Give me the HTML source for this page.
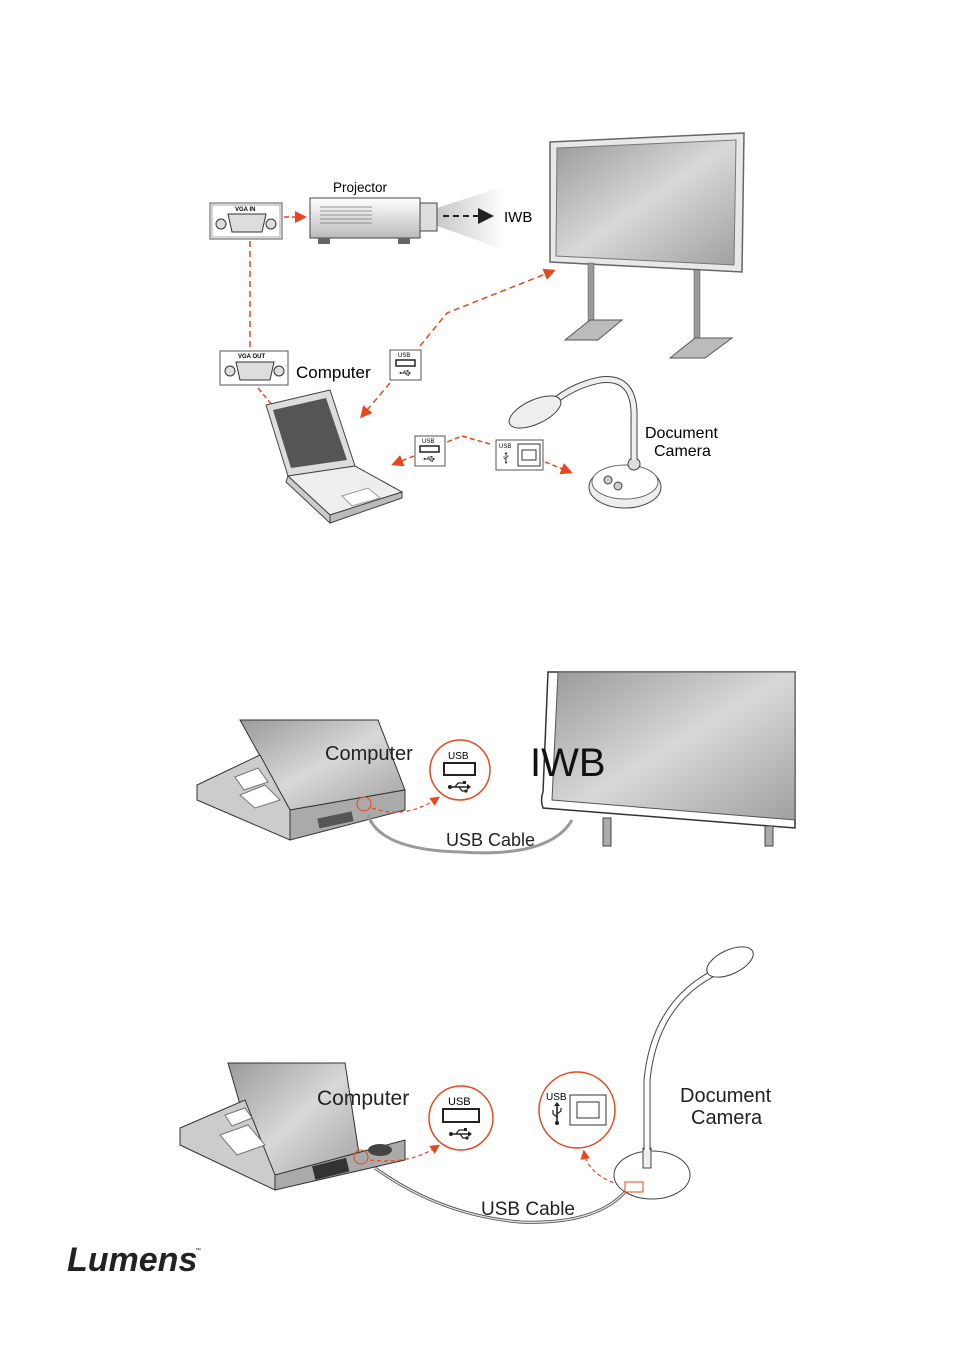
<!DOCTYPE html>
<html><head><meta charset="utf-8"><style>
html,body{margin:0;padding:0;background:#fff}
svg{display:block}
text{font-family:"Liberation Sans",sans-serif}
</style></head><body>
<svg width="955" height="1350" viewBox="0 0 955 1350" xmlns="http://www.w3.org/2000/svg">
<defs>
<linearGradient id="scr" x1="0" y1="0" x2="1" y2="1">
<stop offset="0" stop-color="#9a9a9a"/><stop offset="0.5" stop-color="#d8d8d8"/><stop offset="1" stop-color="#a0a0a0"/></linearGradient>
<linearGradient id="cone" x1="0" y1="0" x2="1" y2="0">
<stop offset="0" stop-color="#c8c8c8"/><stop offset="1" stop-color="#fff"/></linearGradient>
<linearGradient id="body" x1="0" y1="0" x2="0" y2="1">
<stop offset="0" stop-color="#fff"/><stop offset="1" stop-color="#bbb"/></linearGradient>
<marker id="ar" markerWidth="8" markerHeight="8" refX="6" refY="4" orient="auto"><path d="M0,0 L8,4 L0,8z" fill="#e8471d"/></marker>
<marker id="ab" markerWidth="8" markerHeight="8" refX="6" refY="4" orient="auto"><path d="M0,0 L8,4 L0,8z" fill="#222"/></marker>
<g id="usb">
<line x1="-9" y1="0" x2="8" y2="0" stroke="#222" stroke-width="1.6"/>
<circle cx="-9" cy="0" r="2" fill="#222"/>
<path d="M8,-3 L12,0 L8,3z" fill="#222"/>
<path d="M-4,0 L-1,-4 L4,-4" fill="none" stroke="#222" stroke-width="1.3"/>
<path d="M0,0 L3,4 L6,4" fill="none" stroke="#222" stroke-width="1.3"/>
<rect x="4" y="-6" width="3" height="3" fill="#222"/>
<circle cx="7" cy="4" r="1.6" fill="#222"/>
</g>
<g id="usbv">
<line x1="0" y1="-9" x2="0" y2="9" stroke="#222" stroke-width="1.6"/>
<circle cx="0" cy="9" r="2" fill="#222"/>
<path d="M-3,-8 L0,-12 L3,-8z" fill="#222"/>
<path d="M0,3 L-4,0 L-4,-4" fill="none" stroke="#222" stroke-width="1.2"/>
<path d="M0,0 L4,-3 L4,-6" fill="none" stroke="#222" stroke-width="1.2"/>
</g>
</defs>

<!-- TOP DIAGRAM -->
<path d="M550,142 L744,133 L742,272 L550,262z" fill="#e8e8e8" stroke="#666" stroke-width="1.5"/>
<path d="M557,148 L736,140 L734,265 L556,256z" fill="url(#scr)" stroke="#777"/>
<rect x="588" y="263" width="6" height="62" fill="#999" stroke="#555" stroke-width=".5"/>
<rect x="694" y="270" width="6" height="72" fill="#999" stroke="#555" stroke-width=".5"/>
<path d="M565,340 L590,320 L622,320 L598,340z" fill="#bbb" stroke="#555"/>
<path d="M670,358 L695,338 L732,338 L705,358z" fill="#bbb" stroke="#555"/>

<text x="333" y="192" font-size="13.5">Projector</text>
<path d="M437,208 L505,186 L505,250 L437,226z" fill="url(#cone)"/>
<rect x="310" y="198" width="110" height="40" fill="url(#body)" stroke="#444"/>
<g stroke="#777" stroke-width=".7"><line x1="320" y1="207" x2="372" y2="207"/><line x1="320" y1="211" x2="372" y2="211"/><line x1="320" y1="215" x2="372" y2="215"/><line x1="320" y1="219" x2="372" y2="219"/><line x1="320" y1="223" x2="372" y2="223"/></g>
<rect x="420" y="203" width="17" height="28" fill="#ddd" stroke="#444"/>
<rect x="318" y="238" width="12" height="6" fill="#666"/><rect x="398" y="238" width="12" height="6" fill="#666"/>
<line x1="443" y1="216" x2="490" y2="216" stroke="#222" stroke-width="2" stroke-dasharray="6,4" marker-end="url(#ab)"/>
<text x="504" y="222" font-size="15">IWB</text>

<rect x="210" y="203" width="72" height="36" fill="#fff" stroke="#555"/>
<rect x="212" y="205" width="68" height="32" fill="none" stroke="#aaa"/>
<text x="235" y="211" font-size="6" font-weight="bold">VGA IN</text>
<path d="M228,214 L266,214 L262,232 L232,232z" fill="#ddd" stroke="#333"/>
<circle cx="221" cy="224" r="5" fill="#ddd" stroke="#333"/><circle cx="271" cy="224" r="5" fill="#ddd" stroke="#333"/>
<line x1="284" y1="217" x2="304" y2="217" stroke="#e8471d" stroke-width="1.5" stroke-dasharray="5,3" marker-end="url(#ar)"/>
<line x1="250" y1="241" x2="250" y2="350" stroke="#e8471d" stroke-width="1.5" stroke-dasharray="6,4"/>

<rect x="220" y="351" width="68" height="34" fill="#fff" stroke="#555"/>
<text x="238" y="358" font-size="6" font-weight="bold">VGA OUT</text>
<path d="M236,362 L274,362 L270,380 L240,380z" fill="#ddd" stroke="#333"/>
<circle cx="230" cy="371" r="5" fill="#ddd" stroke="#333"/><circle cx="279" cy="371" r="5" fill="#ddd" stroke="#333"/>
<text x="296" y="378" font-size="17">Computer</text>
<line x1="258" y1="388" x2="272" y2="405" stroke="#e8471d" stroke-width="1.5" stroke-dasharray="5,3"/>

<rect x="390" y="350" width="31" height="30" fill="#fff" stroke="#555"/>
<text x="398" y="357" font-size="6">USB</text>
<rect x="396" y="360" width="19" height="6" fill="#fff" stroke="#222" stroke-width="1.5"/>
<use href="#usb" transform="translate(405,373) scale(.5)"/>
<path d="M420,346 L447,313 L553,271" fill="none" stroke="#e8471d" stroke-width="1.5" stroke-dasharray="6,4" marker-end="url(#ar)"/>
<line x1="390" y1="383" x2="362" y2="416" stroke="#e8471d" stroke-width="1.5" stroke-dasharray="6,4" marker-end="url(#ar)"/>

<path d="M266,405 L330,390 L355,466 L288,476z" fill="#ddd" stroke="#444"/>
<path d="M273,410 L326,398 L347,460 L291,468z" fill="#555"/>
<path d="M288,476 L355,466 L402,492 L330,515z" fill="#eee" stroke="#444"/>
<path d="M330,515 L402,492 L402,498 L330,523z" fill="#bbb" stroke="#444"/>
<path d="M288,476 L330,515 L330,523 L286,482z" fill="#ccc" stroke="#444"/>
<path d="M342,496 L368,488 L380,498 L352,506z" fill="#fff" stroke="#999"/>

<rect x="415" y="436" width="30" height="30" fill="#fff" stroke="#555"/>
<text x="422" y="443" font-size="6">USB</text>
<rect x="420" y="446" width="19" height="6" fill="#fff" stroke="#222" stroke-width="1.5"/>
<use href="#usb" transform="translate(429,459) scale(.5)"/>
<path d="M490,444 L462,436 L447,442 M414,456 L394,464" fill="none" stroke="#e8471d" stroke-width="1.5" stroke-dasharray="5,3" marker-end="url(#ar)"/>
<rect x="496" y="440" width="47" height="30" fill="#fff" stroke="#555"/>
<text x="499" y="448" font-size="6">USB</text>
<rect x="518" y="444" width="22" height="22" fill="#fff" stroke="#333"/>
<rect x="522" y="450" width="14" height="10" fill="#fff" stroke="#333"/>
<use href="#usbv" transform="translate(506,458) scale(.5)"/>
<line x1="545" y1="462" x2="570" y2="472" stroke="#e8471d" stroke-width="1.5" stroke-dasharray="5,3" marker-end="url(#ar)"/>

<ellipse cx="625" cy="487" rx="36" ry="21" fill="#eee" stroke="#444"/>
<ellipse cx="625" cy="482" rx="33" ry="17" fill="#fff" stroke="#666"/>
<circle cx="634" cy="464" r="6" fill="#ddd" stroke="#444"/>
<path d="M634,460 L634,420 Q636,375 600,380 Q575,385 556,400" fill="none" stroke="#444" stroke-width="7"/>
<path d="M634,460 L634,420 Q636,375 600,380 Q575,385 556,400" fill="none" stroke="#eee" stroke-width="5"/>
<ellipse cx="535" cy="412" rx="28" ry="12" transform="rotate(-25 535 412)" fill="#eee" stroke="#444"/>
<circle cx="608" cy="480" r="4" fill="#ccc" stroke="#444"/><circle cx="618" cy="486" r="4" fill="#ccc" stroke="#444"/>
<text x="645" y="438" font-size="16">Document</text>
<text x="654" y="456" font-size="16">Camera</text>

<!-- MIDDLE -->
<path d="M548,672 L795,672 L795,828 L543,808 Q540,800 543,792z" fill="#fff" stroke="#333" stroke-width="1.5"/>
<path d="M558,672 L795,672 L795,820 L552,800z" fill="url(#scr)" stroke="#555"/>
<rect x="603" y="818" width="8" height="28" fill="#aaa" stroke="#444"/>
<rect x="765" y="826" width="8" height="20" fill="#aaa" stroke="#444"/>
<text x="530" y="776" font-size="40" fill="#111">IWB</text>
<path d="M240,720 L378,720 L405,790 L290,810z" fill="url(#scr)" stroke="#333"/>
<path d="M197,785 L260,755 L290,810 L290,840 L197,800z" fill="#ccc" stroke="#333"/>
<path d="M290,810 L405,790 L405,810 L290,840z" fill="#aaa" stroke="#333"/>
<rect x="318" y="815" width="35" height="10" fill="#555" transform="rotate(-12 335 820)"/>
<path d="M235,777 L258,768 L268,782 L244,790z" fill="#fff" stroke="#777"/>
<path d="M240,795 L265,785 L280,800 L255,808z" fill="#fff" stroke="#777"/>
<text x="325" y="760" font-size="20" fill="#222">Computer</text>
<circle cx="460" cy="770" r="30" fill="#fff" stroke="#e8471d" stroke-width="1.5"/>
<text x="448" y="759" font-size="10">USB</text>
<rect x="444" y="763" width="31" height="12" fill="#fff" stroke="#222" stroke-width="2"/>
<use href="#usb" transform="translate(459,787)"/>
<circle cx="364" cy="804" r="7" fill="none" stroke="#e8471d"/>
<path d="M372,808 Q405,820 438,798" fill="none" stroke="#e8471d" stroke-width="1.2" stroke-dasharray="4,3" marker-end="url(#ar)"/>
<path d="M368,815 Q380,850 460,852 Q550,858 572,820" fill="none" stroke="#999" stroke-width="3"/>
<text x="446" y="846" font-size="18" fill="#222">USB Cable</text>

<!-- BOTTOM -->
<path d="M228,1063 L345,1063 L360,1160 L262,1180z" fill="url(#scr)" stroke="#333"/>
<path d="M180,1128 L245,1100 L275,1175 L275,1190 L180,1145z" fill="#ccc" stroke="#333"/>
<path d="M275,1175 L405,1140 L405,1160 L275,1190z" fill="#aaa" stroke="#333"/>
<path d="M225,1115 L245,1108 L252,1118 L232,1126z" fill="#fff" stroke="#777"/>
<path d="M220,1135 L248,1125 L265,1145 L237,1155z" fill="#fff" stroke="#777"/>
<rect x="313" y="1162" width="35" height="14" fill="#333" transform="rotate(-14 330 1168)"/>
<ellipse cx="380" cy="1150" rx="12" ry="6" fill="#444"/>
<text x="317" y="1105" font-size="21" fill="#222">Computer</text>
<circle cx="361" cy="1157" r="7" fill="none" stroke="#e8471d"/>
<circle cx="461" cy="1118" r="32" fill="#fff" stroke="#e8471d" stroke-width="1.5"/>
<text x="448" y="1105" font-size="11">USB</text>
<rect x="443" y="1109" width="36" height="13" fill="#fff" stroke="#222" stroke-width="2"/>
<use href="#usb" transform="translate(460,1134)"/>
<path d="M370,1160 Q410,1165 438,1146" fill="none" stroke="#e8471d" stroke-width="1.2" stroke-dasharray="4,3" marker-end="url(#ar)"/>
<circle cx="577" cy="1110" r="38" fill="#fff" stroke="#e8471d" stroke-width="1.5"/>
<text x="546" y="1100" font-size="10">USB</text>
<rect x="570" y="1095" width="36" height="30" fill="#fff" stroke="#333"/>
<rect x="577" y="1102" width="22" height="16" fill="#fff" stroke="#333"/>
<use href="#usbv" transform="translate(557,1114)"/>
<path d="M620,1185 Q588,1175 584,1152" fill="none" stroke="#e8471d" stroke-width="1.2" stroke-dasharray="4,3" marker-end="url(#ar)"/>
<path d="M375,1168 Q440,1215 520,1222 Q595,1225 625,1192" fill="none" stroke="#444" stroke-width="3"/>
<path d="M375,1168 Q440,1215 520,1222 Q595,1225 625,1192" fill="none" stroke="#ddd" stroke-width="1.5"/>
<text x="481" y="1215" font-size="19" fill="#222">USB Cable</text>
<ellipse cx="652" cy="1175" rx="38" ry="24" fill="#fff" stroke="#444"/>
<rect x="643" y="1148" width="8" height="20" fill="#eee" stroke="#444"/>
<path d="M647,1150 L647,1080 Q655,1000 720,970" fill="none" stroke="#444" stroke-width="7"/>
<path d="M647,1150 L647,1080 Q655,1000 720,970" fill="none" stroke="#fff" stroke-width="5"/>
<ellipse cx="730" cy="962" rx="25" ry="12" transform="rotate(-25 730 962)" fill="#fff" stroke="#444"/>
<rect x="625" y="1182" width="18" height="10" fill="#fff" stroke="#e8471d"/>
<text x="680" y="1102" font-size="20" fill="#222">Document</text>
<text x="691" y="1124" font-size="20" fill="#222">Camera</text>

<text x="67" y="1271" font-size="34" font-weight="bold" font-style="italic" fill="#222">Lumens</text>
<text x="195" y="1252" font-size="6" fill="#222">™</text>
</svg>
</body></html>
